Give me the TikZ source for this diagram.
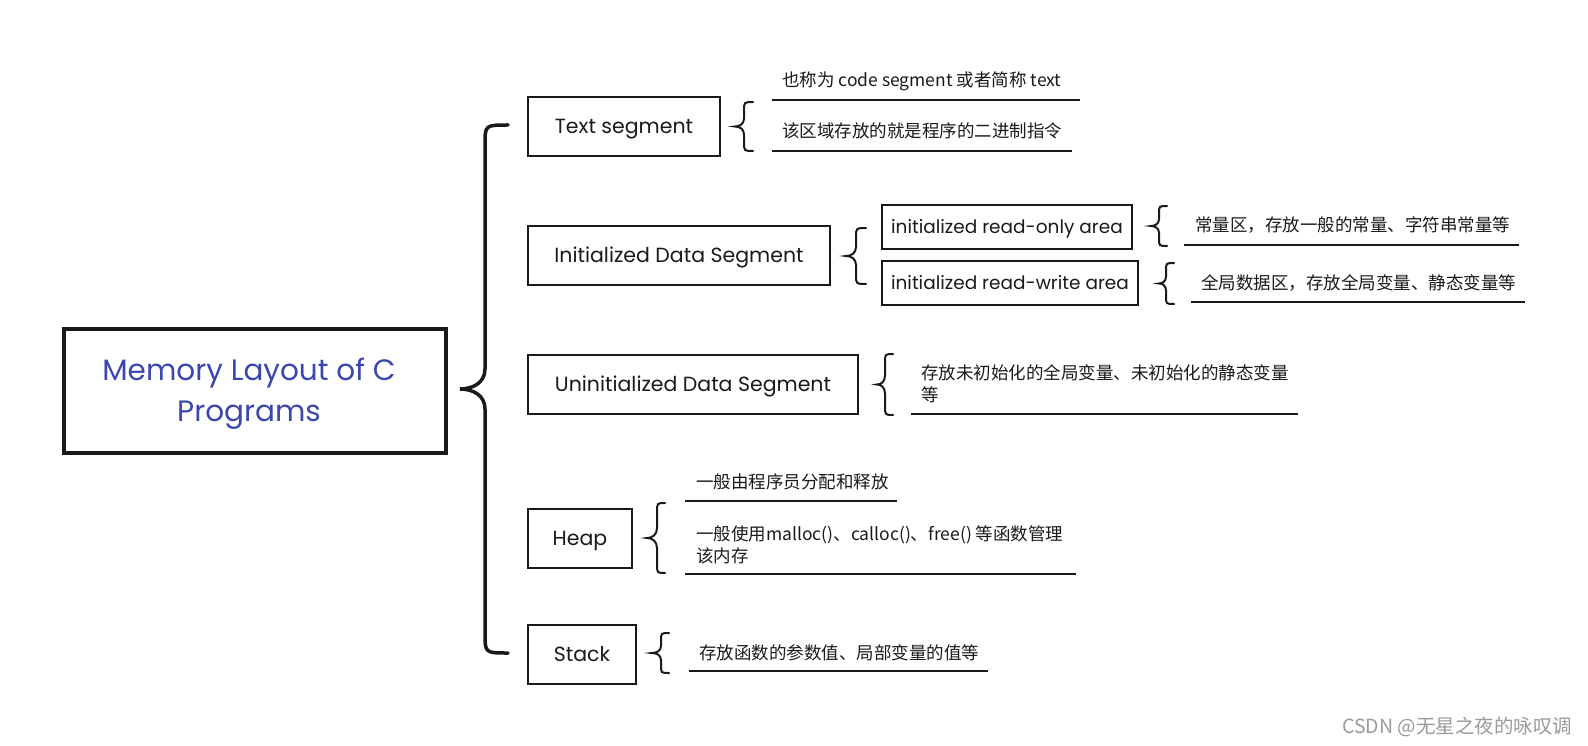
\documentclass[tikz,border=0pt]{standalone}
\usepackage{fontspec}
\setmainfont{Poppins}
\newfontfamily\cjk{Noto Sans CJK SC}
\newfontfamily\titlefont{Poppins}
\definecolor{titleblue}{HTML}{3A48AE}
\definecolor{ink}{HTML}{1A1A1A}
\definecolor{wm}{HTML}{9A9A9A}
% xt xv xe yt yb r h
\newcommand{\mybrace}[8][]{%
 \draw[bracestyle,#1] (#4,#5) .. controls (#3,#5) .. (#3,{#5+#7}) -- (#3,{(#5+#6)/2-#8})
  .. controls (#3,{(#5+#6)/2-0.3*#8}) and ({(#2+#3)/2},{(#5+#6)/2}) .. (#2,{(#5+#6)/2})
  .. controls ({(#2+#3)/2},{(#5+#6)/2}) and (#3,{(#5+#6)/2+0.3*#8}) .. (#3,{(#5+#6)/2+#8})
  -- (#3,{#6-#7}) .. controls (#3,#6) .. (#4,#6);}
\begin{document}
\begin{tikzpicture}[x=1pt,y=-1pt,
  mainbox/.style={draw=ink,line width=3.5pt,minimum width=382,minimum height=124},
  titletext/.style={align=center,inner sep=0pt,font=\titlefont\fontsize{29.5}{41}\selectfont,text=titleblue},
  segbox/.style={draw=ink,line width=2pt,minimum height=59,text height=14.5pt,text depth=0pt,
     font=\fontsize{20.5}{24}\selectfont,text=ink},
  subbox/.style={draw=ink,line width=2pt,minimum height=44,text height=13pt,text depth=0pt,
     font=\fontsize{18.5}{23}\selectfont,text=ink},
  note/.style={anchor=west,inner sep=0pt,font=\cjk\fontsize{17.5}{22}\selectfont,text=ink,align=left},
  uline/.style={draw=ink,line width=2.2pt},
  bracestyle/.style={draw=ink,line width=2pt,line cap=round}]
\useasboundingbox (0,0) rectangle (1588,746);
\fill[white] (0,0) rectangle (1588,746);

% main
\node[mainbox] (main) at (255,391) {};
\node[titletext] (title) at ([xshift=-6pt,yshift=-2.5pt]main.center) {Memory Layout of C\\Programs};
\mybrace[line width=3.5pt]{460}{485}{508}{125}{653}{20}{20}

% segments
\node[segbox,minimum width=192] (text) at (624,126.5) {Text segment};
\node[segbox,minimum width=302] (init) at (679,255.5) {Initialized Data Segment};
\node[segbox,minimum width=330] (uninit) at (693,384.5) {Uninitialized Data Segment};
\node[segbox,minimum width=104] (heap) at (580,538.5) {Heap};
\node[segbox,minimum width=108] (stack) at (582,654.5) {Stack};

% sub boxes of init
\node[subbox,minimum width=250] (ro) at (1007,227) {initialized read-only area};
\node[subbox,minimum width=256] (rw) at (1010,283) {initialized read-write area};

% small braces
\mybrace{735}{744}{753}{102}{151}{9}{8}
\mybrace{846}{856}{866}{228}{284}{9}{9}
\mybrace{1151}{1159}{1167}{206}{246}{8}{7}
\mybrace{1159}{1166}{1174}{263}{304}{8}{7}
\mybrace{877}{885}{893}{354}{415}{9}{9}
\mybrace{647}{657}{665}{503}{573}{9}{10}
\mybrace{652}{661}{669}{633}{673}{8}{7}

% notes
\node[note] (t1) at (782,81) {也称为 code segment 或者简称 text};
\draw[uline] (772,100) -- (1080,100);
\node[note] (t2) at (782,131) {该区域存放的就是程序的二进制指令};
\draw[uline] (772,151) -- (1072,151);

\node[note] (r1) at (1195,225) {常量区，存放一般的常量、字符串常量等};
\draw[uline] (1184,245) -- (1519,245);
\node[note] (w1) at (1201,283) {全局数据区，存放全局变量、静态变量等};
\draw[uline] (1191,302) -- (1525,302);

\node[note] (u1) at (921,384) {存放未初始化的全局变量、未初始化的静态变量\\等};
\draw[uline] (911,414) -- (1298,414);

\node[note] (h1) at (696,482) {一般由程序员分配和释放};
\draw[uline] (685,501) -- (897,501);
\node[note] (h2) at (696,544.5) {一般使用malloc()、calloc()、free() 等函数管理\\该内存};
\draw[uline] (685,574) -- (1076,574);

\node[note] (s1) at (699,653) {存放函数的参数值、局部变量的值等};
\draw[uline] (689,671) -- (988,671);

\node[anchor=west,inner sep=0pt,font=\cjk\fontsize{19.5}{22}\selectfont,text=wm] (wmk) at (1342,727) {CSDN @无星之夜的咏叹调};
\end{tikzpicture}
\end{document}
